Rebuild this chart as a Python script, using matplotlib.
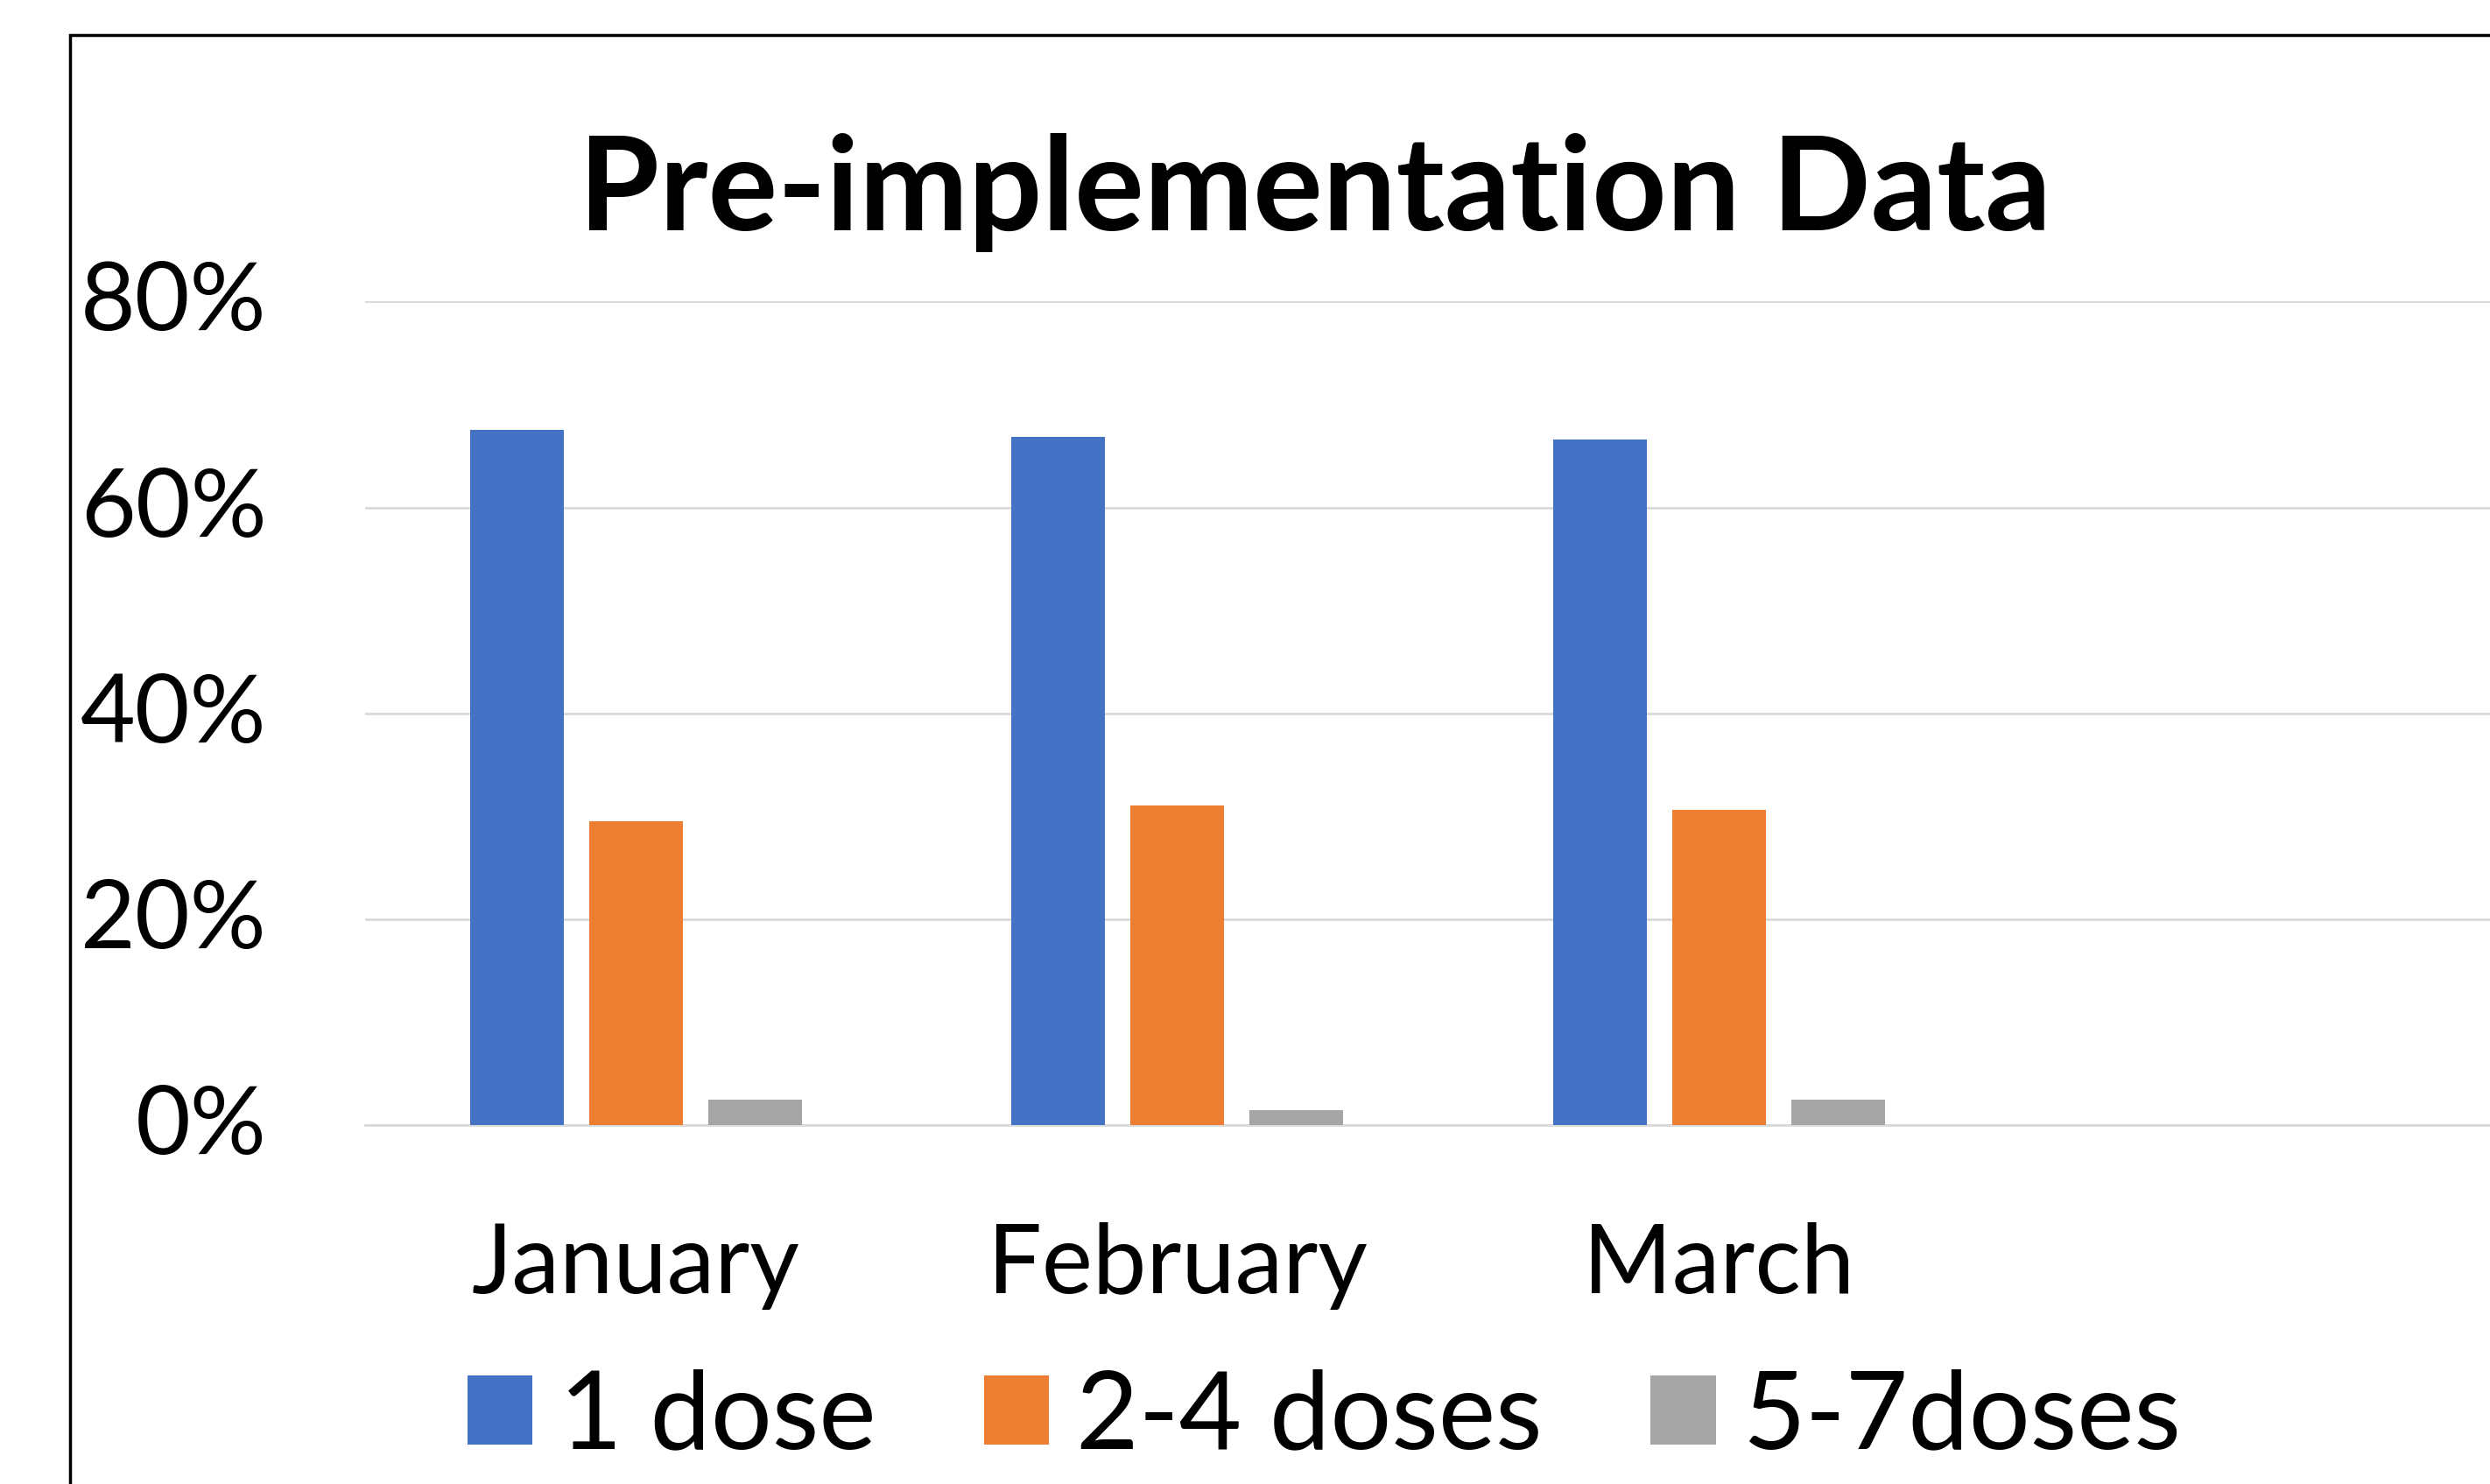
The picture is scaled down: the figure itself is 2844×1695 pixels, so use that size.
import matplotlib
matplotlib.use("Agg")
import matplotlib.pyplot as plt
import matplotlib.transforms as mtransforms
from matplotlib.patches import Rectangle, Patch
import numpy as np

months = ["January", "February", "March", ""]
series_names = ["1 dose", "2-4 doses", "5-7doses"]
one_dose = [0.675, 0.669, 0.666]
two_four_doses = [0.295, 0.311, 0.306]
five_seven_doses = [0.025, 0.015, 0.025]
y_ticks = [0, 0.2, 0.4, 0.6, 0.8]
y_tick_labels = ["0%", "20%", "40%", "60%", "80%"]

colors = ["#4472C4", "#ED7D31", "#A5A5A5"]

plt.rcParams["font.family"] = ["Lato", "DejaVu Sans"]

fig = plt.figure(figsize=(28.44, 16.95), dpi=100)

# chart frame (cropped on right and bottom in the original)
fig.patches.append(Rectangle((44 / 1568, -0.1), 1.2, 1 - 22 / 935 + 0.1,
                             transform=fig.transFigure, fill=False,
                             edgecolor="black", linewidth=2.5))

ax_left = 230 / 1568
ax_right = (230 + 4 * 341) / 1568
ax_bottom = 1 - 709 / 935
ax_top = 1 - 190 / 935
ax = fig.add_axes([ax_left, ax_bottom, ax_right - ax_left, ax_top - ax_bottom])

x = np.arange(len(one_dose))
width = 0.173
offset = 0.22
for i, vals in enumerate([one_dose, two_four_doses, five_seven_doses]):
    ax.bar(x + (i - 1) * offset, vals, width, color=colors[i], zorder=3)

ax.set_xlim(-0.5, 3.5)
ax.set_ylim(0, 0.8)
ax.set_yticks(y_ticks)
ax.set_yticklabels(y_tick_labels, fontsize=78)
ax.set_xticks(np.arange(len(months)))
ax.set_xticklabels(months, fontsize=79)
ax.tick_params(axis="y", length=0, pad=81)
ax.tick_params(axis="x", length=0, pad=80)
# nudge y labels up a little
shift = mtransforms.ScaledTranslation(0, 5 / 72, fig.dpi_scale_trans)
for lbl in ax.get_yticklabels():
    lbl.set_transform(lbl.get_transform() + shift)
ax.grid(axis="y", color="#D9D9D9", linewidth=2, zorder=0)
for side in ["top", "right", "left"]:
    ax.spines[side].set_visible(False)
ax.spines["bottom"].set_color("#D9D9D9")
ax.spines["bottom"].set_linewidth(2)

fig.text(828 / 1568, 1 - 145 / 935, "Pre-implementation Data", fontsize=107,
         fontweight="bold", ha="center", va="baseline")

handles = [Patch(facecolor=c) for c in colors]
fig.legend(handles, series_names, loc="center", bbox_to_anchor=(834 / 1568, 1 - 893 / 935),
           ncol=3, frameon=False, fontsize=89, handlelength=0.6, handleheight=0.6,
           handletextpad=0.25, columnspacing=1.0)

fig.savefig("out.png", dpi=100)
